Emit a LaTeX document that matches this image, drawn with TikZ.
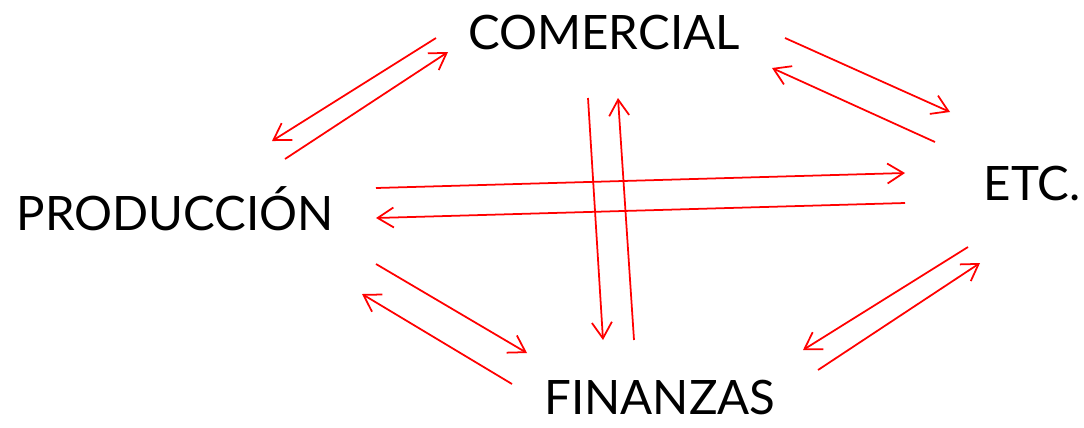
\documentclass[tikz,border=0pt]{standalone}
\usepackage{fontspec}
\setmainfont{Lato}
\usetikzlibrary{arrows.meta}

\begin{document}
\begin{tikzpicture}[
  x=0.02cm, y=-0.02cm,
  >={Straight Barb[length=0.32cm,width=0.4cm]},
  area/.style={
    anchor=base,
    inner sep=0pt,
    text depth=0pt,
    font=\fontsize{27}{30}\selectfont
  },
  flujo/.style={->, red, line width=1pt}
]
\useasboundingbox (0,0) rectangle (1084,427);
\node[area] (com)  at (604,49)  {COMERCIAL};
\node[area] (prod) at (175,230) {PRODUCCIÓN};
\node[area] (etc)  at (1032,200) {ETC.};
\node[area] (fin)  at (660,414) {FINANZAS};

\draw[flujo] ([shift={(110,-71)}]prod.base) -- ([shift={(-156,3)}]com.base);
\draw[flujo] ([shift={(-168,-11)}]com.base) -- ([shift={(97,-89)}]prod.base);
\draw[flujo] ([shift={(181,-11)}]com.base) -- ([shift={(-82,-88)}]etc.base);
\draw[flujo] ([shift={(-97,-58)}]etc.base) -- ([shift={(168,19)}]com.base);
\draw[flujo] ([shift={(-16,49)}]com.base) -- ([shift={(-57,-74)}]fin.base);
\draw[flujo] ([shift={(-26,-74)}]fin.base) -- ([shift={(14,49)}]com.base);
\draw[flujo] ([shift={(201,-42)}]prod.base) -- ([shift={(-127,-27)}]etc.base);
\draw[flujo] ([shift={(-127,3)}]etc.base) -- ([shift={(201,-12)}]prod.base);
\draw[flujo] ([shift={(201,34)}]prod.base) -- ([shift={(-133,-61)}]fin.base);
\draw[flujo] ([shift={(-148,-30)}]fin.base) -- ([shift={(187,64)}]prod.base);
\draw[flujo] ([shift={(158,-44)}]fin.base) -- ([shift={(-52,63)}]etc.base);
\draw[flujo] ([shift={(-64,47)}]etc.base) -- ([shift={(143,-64)}]fin.base);
\end{tikzpicture}
\end{document}
